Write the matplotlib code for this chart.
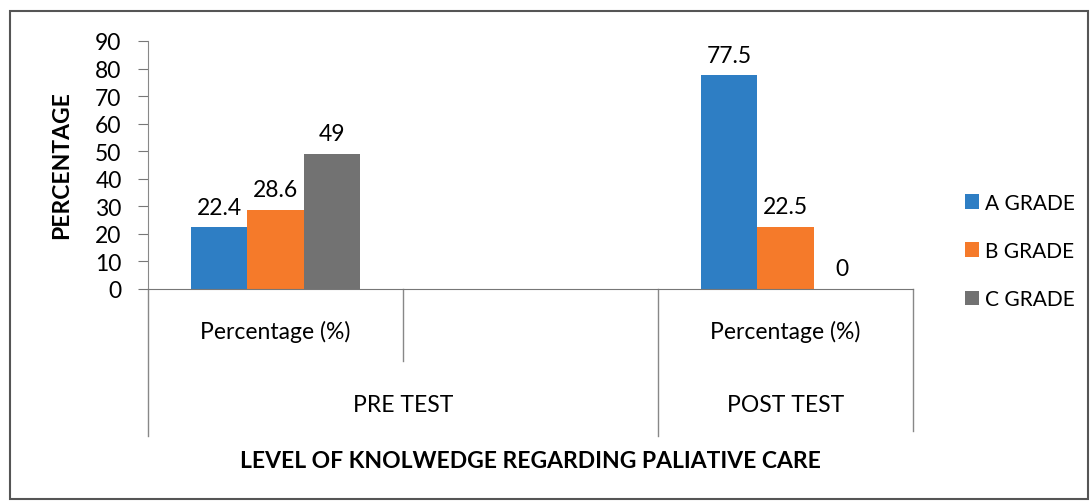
import matplotlib.pyplot as plt
from matplotlib.patches import Rectangle
import numpy as np

plt.rcParams['font.family'] = ['Lato', 'DejaVu Sans']

# data
grades = ['A GRADE', 'B GRADE', 'C GRADE']
colors = ['#2E7EC4', '#F57A2A', '#727272']
slot_labels = ['Percentage (%)', '', 'Percentage (%)']
pre_values = [22.4, 28.6, 49]
post_values = [77.5, 22.5, 0]
group_labels = ['PRE TEST', 'POST TEST']

FS = 16.5
W, H = 1090, 502
fig = plt.figure(figsize=(W / 100, H / 100), dpi=100)
ax = fig.add_axes([148 / W, (H - 290) / H, (913 - 148) / W, 248 / H])

slots = [0.5, 2.5]
series = np.array([pre_values, post_values]).T  # one row per grade
bw = 0.22
for i, (g, c) in enumerate(zip(grades, colors)):
    xs = [s + (i - 1) * bw for s in slots]
    bars = ax.bar(xs, series[i], width=bw, color=c, label=g)
    for b, v in zip(bars, series[i]):
        ax.annotate(f'{v:g}', (b.get_x() + b.get_width() / 2, v),
                    xytext=(0, 7), textcoords='offset points',
                    ha='center', va='bottom', fontsize=FS)

ax.set_xlim(0, 3)
ax.set_ylim(0, 90)
ax.set_yticks(range(0, 91, 10))
ax.tick_params(axis='y', labelsize=FS, length=7, color='#777777', pad=12)
ax.set_xticks([])
for s in ['top', 'right']:
    ax.spines[s].set_visible(False)
ax.spines['left'].set_color('#888888')
ax.spines['bottom'].set_color('#777777')

# multi-level category axis
trans = ax.get_xaxis_transform()
px = 1 / 248  # one pixel in axes height units
for x, depth in [(0, 147), (1, 72), (2, 147), (3, 142)]:
    ax.plot([x, x], [0, -depth * px], color='#888888', lw=1,
            transform=trans, clip_on=False)
for i, lab in enumerate(slot_labels):
    if lab:
        ax.text(i + 0.5, -42 * px, lab, transform=trans, ha='center',
                va='center', fontsize=FS)
ax.text(1.0, -115 * px, group_labels[0], transform=trans, ha='center',
        va='center', fontsize=FS)
ax.text(2.5, -115 * px, group_labels[1], transform=trans, ha='center',
        va='center', fontsize=FS)

fig.text(530 / W, 1 - 462 / H, 'LEVEL OF KNOLWEDGE REGARDING PALIATIVE CARE',
         ha='center', va='center', fontsize=FS, fontweight='bold')
fig.text(62 / W, 1 - 165 / H, 'PERCENTAGE', rotation=90, ha='center',
         va='center', fontsize=FS, fontweight='bold')

ax.legend(loc='center left', bbox_to_anchor=(946 / W, 1 - 252 / H),
          bbox_transform=fig.transFigure, frameon=False, fontsize=15,
          handlelength=0.7, handleheight=0.7, handletextpad=0.25,
          labelspacing=1.35)

fig.patches.append(Rectangle((10 / W, 1 - 500 / H), 1078 / W, 488 / H,
                             transform=fig.transFigure, fill=False,
                             edgecolor='#555555', lw=1.5))

fig.savefig('out.png', dpi=100)
